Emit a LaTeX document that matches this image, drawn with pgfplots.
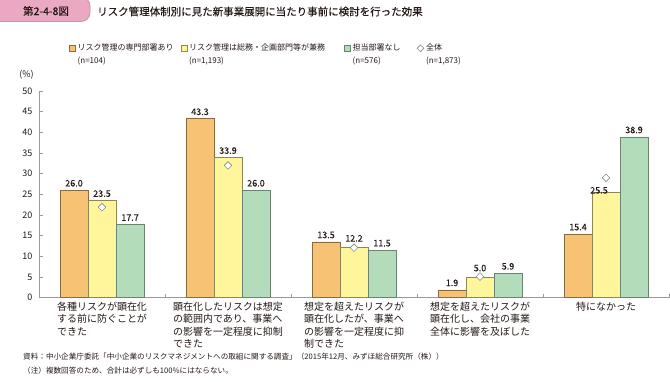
\documentclass[border=0pt]{standalone}
\usepackage{fontspec}
\setmainfont{Noto Sans CJK JP}
\newfontfamily\medfont{Noto Sans CJK JP}[FakeBold=0.25]
\usepackage{pgfplots}
\pgfplotsset{compat=1.18}
\usepackage{pgfplotstable}

\definecolor{ofill}{HTML}{F8C275}
\definecolor{yfill}{HTML}{FFF69B}
\definecolor{gfill}{HTML}{B3DCBB}
\colorlet{oline}{ofill!55!black}
\colorlet{yline}{yfill!55!black}
\colorlet{gline}{gfill!60!black}
\definecolor{pinkfill}{HTML}{EBA8C3}
\definecolor{pinkline}{HTML}{D98BAE}
\definecolor{axgray}{HTML}{9A9A9A}
\definecolor{diagray}{HTML}{8A8A8A}
\definecolor{txt}{HTML}{231815}

% dx, dy: offsets (pt) of each value label from its bar's centre line
\pgfplotstableread{
x y dx dy
0 26.0 -28 0
1 43.3 -28 0
2 13.5 -28 0
3 1.9 -28 0
4 15.4 -28 0
}\tabO
\pgfplotstableread{
x y dx dy
0 23.5 0 0
1 33.9 0 0
2 12.2 0 2
3 5.0 0 2
4 25.5 -7 -5
}\tabY
\pgfplotstableread{
x y dx dy
0 17.7 28 0
1 26.0 28 0
2 11.5 28 0
3 5.9 28 0
4 38.9 28 0
}\tabG
\pgfplotstableread{
x y
0 21.9
1 32.0
2 12.1
3 5.1
4 29.0
}\tabAll

\pgfplotsset{
  barlabels/.style={
    visualization depends on={\thisrow{dx}\as\dx},
    visualization depends on={\thisrow{dy}\as\dy},
    point meta=y,
    nodes near coords={\pgfmathprintnumber[fixed,fixed zerofill,precision=1]{\pgfplotspointmeta}},
    nodes near coords style={font=\medfont\fontsize{9}{10}\selectfont, text=txt, xshift=\dx, yshift=\dy},
  }
}

\begin{document}
\begin{tikzpicture}
\path[use as bounding box] (0,0) rectangle (670pt,381pt);
\draw[pinkline, fill=pinkfill, rounded corners=9pt, line width=0.8pt] (-12pt,359.5pt) rectangle (90pt,384pt);
\node[anchor=center, inner sep=0pt, text=txt, font=\medfont\fontsize{10.5}{12}\selectfont] at (46pt,370pt) {第2-4-8図};
\node[anchor=west, inner sep=0pt, text=txt, font=\medfont\fontsize{10.5}{12}\selectfont] at (97pt,369.5pt) {リスク管理体制別に見た新事業展開に当たり事前に検討を行った効果};
\node[anchor=center, inner sep=0pt, text=txt, font=\fontsize{9}{10}\selectfont] at (26.5pt,306pt) {(\%)};
\node[anchor=west, inner sep=0pt, text=txt, font=\fontsize{7.6}{9}\selectfont] at (23pt,24pt) {資料：中小企業庁委託「中小企業のリスクマネジメントへの取組に関する調査」（2015年12月、みずほ総合研究所（株））};
\node[anchor=west, inner sep=0pt, text=txt, font=\fontsize{7.6}{9}\selectfont] at (23pt,10pt) {（注）複数回答のため、合計は必ずしも100\%にはならない。};

\begin{axis}[
  at={(39pt,83.3pt)}, anchor=south west,
  scale only axis, width=630pt, height=206.7pt,
  xmin=-0.5, xmax=4.5, ymin=0, ymax=50,
  clip=false,
  axis x line*=bottom, axis y line*=left,
  axis line style={axgray, line width=0.6pt},
  /pgf/number format/assume math mode=true,
  ytick={0,5,...,50}, ytick align=inside,
  xtick={-0.5,0.5,1.5,2.5,3.5,4.5}, xticklabels={{},{},{},{},{},{}}, xtick align=inside,
  major tick length=4pt,
  tick style={axgray, line width=0.6pt},
  yticklabel style={font=\fontsize{9}{10}\selectfont, text=txt, xshift=-3pt},
  extra x ticks={0,1,2,3,4},
  extra x tick style={major tick length=0pt},
  extra x tick labels={
    {\begin{tabular}[t]{@{}l@{}}各種リスクが顕在化\\する前に防ぐことが\\できた\end{tabular}},
    {\begin{tabular}[t]{@{}l@{}}顕在化したリスクは想定\\の範囲内であり、事業へ\\の影響を一定程度に抑制\\できた\end{tabular}},
    {\begin{tabular}[t]{@{}l@{}}想定を超えたリスクが\\顕在化したが、事業へ\\の影響を一定程度に抑\\制できた\end{tabular}},
    {\begin{tabular}[t]{@{}l@{}}想定を超えたリスクが\\顕在化し、会社の事業\\全体に影響を及ぼした\end{tabular}},
    {\begin{tabular}[t]{@{}l@{}}特になかった\end{tabular}}},
  xticklabel style={font=\fontsize{10}{12.3}\selectfont, text=txt, anchor=north, inner sep=0pt, yshift=-4pt},
  legend columns=4,
  legend cell align=left,
  legend style={draw=none, fill=none, at={(axis description cs:0.0429,1.2467)}, anchor=north west,
    font=\fontsize{8}{10}\selectfont, text=txt,
    /tikz/column 2/.style={column sep=5pt},
    /tikz/column 4/.style={column sep=17pt},
    /tikz/column 6/.style={column sep=14pt},
    row sep=0.5pt},
]
\addlegendimage{legend image code/.code={\draw[fill=ofill, draw=oline, line width=0.5pt] (0pt,-3pt) rectangle (6pt,3pt);}}
\addlegendentry{リスク管理の専門部署あり}
\addlegendimage{legend image code/.code={\draw[fill=yfill, draw=yline, line width=0.5pt] (0pt,-3pt) rectangle (6pt,3pt);}}
\addlegendentry{リスク管理は総務・企画部門等が兼務}
\addlegendimage{legend image code/.code={\draw[fill=gfill, draw=gline, line width=0.5pt] (0pt,-3pt) rectangle (6pt,3pt);}}
\addlegendentry{担当部署なし}
\addlegendimage{legend image code/.code={\draw[fill=white, draw=diagray, line width=0.6pt] (3pt,-3.4pt) -- (6.4pt,0pt) -- (3pt,3.4pt) -- (-0.4pt,0pt) -- cycle;}}
\addlegendentry{全体}
\addlegendimage{empty legend}\addlegendentry{(n=104)}
\addlegendimage{empty legend}\addlegendentry{(n=1,193)}
\addlegendimage{empty legend}\addlegendentry{(n=576)}
\addlegendimage{empty legend}\addlegendentry{(n=1,873)}

\addplot[ybar, bar width=28pt, bar shift=-28pt, fill=ofill, draw=oline, line width=0.6pt, forget plot, barlabels]
  table[x=x,y=y]{\tabO};
\addplot[ybar, bar width=28pt, bar shift=0pt, fill=yfill, draw=yline, line width=0.6pt, forget plot, barlabels]
  table[x=x,y=y]{\tabY};
\addplot[ybar, bar width=28pt, bar shift=28pt, fill=gfill, draw=gline, line width=0.6pt, forget plot, barlabels]
  table[x=x,y=y]{\tabG};
\addplot[only marks, mark=square*, mark size=2.7pt, forget plot,
  mark options={rotate=45, fill=white, draw=diagray, line width=0.6pt}]
  table[x=x,y=y]{\tabAll};
\end{axis}
\end{tikzpicture}
\end{document}
